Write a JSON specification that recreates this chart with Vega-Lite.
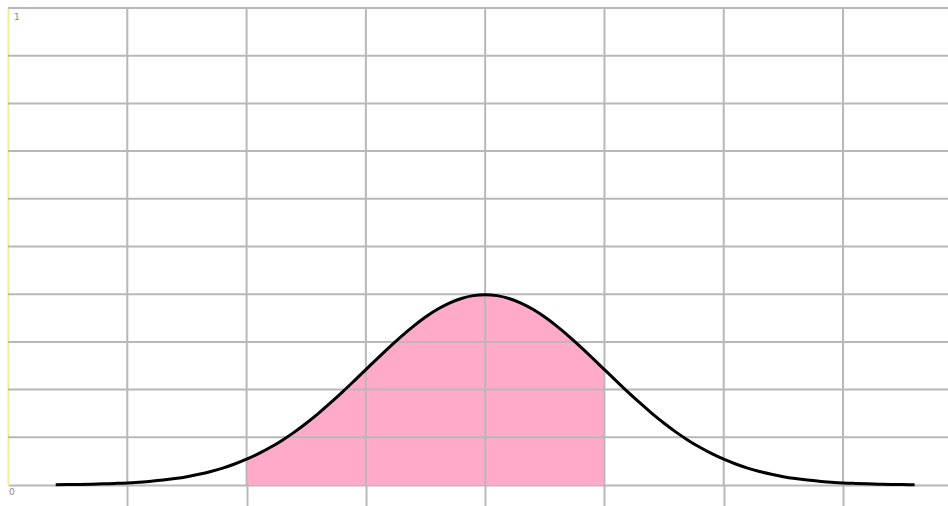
{
  "$schema": "https://vega.github.io/schema/vega-lite/v6.json",
  "width": 940,
  "height": 477,
  "autosize": {"type": "none"},
  "padding": {"left": 8, "top": 8, "right": 0, "bottom": 21},
  "background": "white",
  "config": {"view": {"stroke": null}},
  "datasets": {
    "curve": [
      {"x": -3.6, "y": 0.0006}, {"x": -3.5, "y": 0.0009}, {"x": -3.4, "y": 0.0012}, {"x": -3.3, "y": 0.0017},
      {"x": -3.2, "y": 0.0024}, {"x": -3.1, "y": 0.0033}, {"x": -3.0, "y": 0.0044}, {"x": -2.9, "y": 0.0060},
      {"x": -2.8, "y": 0.0079}, {"x": -2.7, "y": 0.0104}, {"x": -2.6, "y": 0.0136}, {"x": -2.5, "y": 0.0175},
      {"x": -2.4, "y": 0.0224}, {"x": -2.3, "y": 0.0283}, {"x": -2.2, "y": 0.0355}, {"x": -2.1, "y": 0.0440},
      {"x": -2.0, "y": 0.0540}, {"x": -1.9, "y": 0.0656}, {"x": -1.8, "y": 0.0790}, {"x": -1.7, "y": 0.0940},
      {"x": -1.6, "y": 0.1109}, {"x": -1.5, "y": 0.1295}, {"x": -1.4, "y": 0.1497}, {"x": -1.3, "y": 0.1714},
      {"x": -1.2, "y": 0.1942}, {"x": -1.1, "y": 0.2179}, {"x": -1.0, "y": 0.2420}, {"x": -0.9, "y": 0.2661},
      {"x": -0.8, "y": 0.2897}, {"x": -0.7, "y": 0.3123}, {"x": -0.6, "y": 0.3332}, {"x": -0.5, "y": 0.3521},
      {"x": -0.4, "y": 0.3683}, {"x": -0.3, "y": 0.3814}, {"x": -0.2, "y": 0.3910}, {"x": -0.1, "y": 0.3970},
      {"x": 0.0, "y": 0.3989}, {"x": 0.1, "y": 0.3970}, {"x": 0.2, "y": 0.3910}, {"x": 0.3, "y": 0.3814},
      {"x": 0.4, "y": 0.3683}, {"x": 0.5, "y": 0.3521}, {"x": 0.6, "y": 0.3332}, {"x": 0.7, "y": 0.3123},
      {"x": 0.8, "y": 0.2897}, {"x": 0.9, "y": 0.2661}, {"x": 1.0, "y": 0.2420}, {"x": 1.1, "y": 0.2179},
      {"x": 1.2, "y": 0.1942}, {"x": 1.3, "y": 0.1714}, {"x": 1.4, "y": 0.1497}, {"x": 1.5, "y": 0.1295},
      {"x": 1.6, "y": 0.1109}, {"x": 1.7, "y": 0.0940}, {"x": 1.8, "y": 0.0790}, {"x": 1.9, "y": 0.0656},
      {"x": 2.0, "y": 0.0540}, {"x": 2.1, "y": 0.0440}, {"x": 2.2, "y": 0.0355}, {"x": 2.3, "y": 0.0283},
      {"x": 2.4, "y": 0.0224}, {"x": 2.5, "y": 0.0175}, {"x": 2.6, "y": 0.0136}, {"x": 2.7, "y": 0.0104},
      {"x": 2.8, "y": 0.0079}, {"x": 2.9, "y": 0.0060}, {"x": 3.0, "y": 0.0044}, {"x": 3.1, "y": 0.0033},
      {"x": 3.2, "y": 0.0024}, {"x": 3.3, "y": 0.0017}, {"x": 3.4, "y": 0.0012}, {"x": 3.5, "y": 0.0009},
      {"x": 3.6, "y": 0.0006}
    ],
    "vgrid": [{"x": -3}, {"x": -2}, {"x": -1}, {"x": 0}, {"x": 1}, {"x": 2}, {"x": 3}],
    "hgrid": [{"y": 0.1}, {"y": 0.2}, {"y": 0.3}, {"y": 0.4}, {"y": 0.5}, {"y": 0.6}, {"y": 0.7}, {"y": 0.8}, {"y": 0.9}, {"y": 1.0}],
    "toplabel": [{"x": -4, "y": 1, "t": "1"}],
    "bottomlabel": [{"x": -4, "y": 0, "t": "0"}]
  },
  "layer": [
    {
      "data": {"name": "curve"},
      "transform": [{"filter": "datum.x >= -2 && datum.x <= 1"}],
      "mark": {"type": "area", "color": "#ffaac8", "opacity": 1},
      "encoding": {
        "x": {"field": "x", "type": "quantitative", "scale": {"domain": [-4, 3.88], "nice": false, "zero": false},
          "axis": {"orient": "bottom", "values": [-3, -2, -1, 0, 1, 2, 3], "labels": false, "title": null, "grid": false,
            "domainColor": "#b8b8b8", "domainWidth": 2, "tickColor": "#b8b8b8", "tickWidth": 2, "tickSize": 21}},
        "y": {"field": "y", "type": "quantitative", "scale": {"domain": [0, 1], "nice": false},
          "axis": {"orient": "left", "labels": false, "ticks": false, "title": null, "grid": false,
            "domainColor": "#eeeea0", "domainWidth": 2}}
      }
    },
    {
      "data": {"name": "vgrid"},
      "mark": {"type": "rule", "color": "#b8b8b8", "strokeWidth": 2},
      "encoding": {
        "x": {"field": "x", "type": "quantitative"},
        "y": {"datum": 0, "type": "quantitative"},
        "y2": {"datum": 1}
      }
    },
    {
      "data": {"name": "hgrid"},
      "mark": {"type": "rule", "color": "#b8b8b8", "strokeWidth": 2},
      "encoding": {
        "y": {"field": "y", "type": "quantitative"},
        "x": {"datum": -4, "type": "quantitative"},
        "x2": {"datum": 3.88}
      }
    },
    {
      "data": {"name": "curve"},
      "mark": {"type": "line", "color": "black", "strokeWidth": 3, "interpolate": "monotone"},
      "encoding": {
        "x": {"field": "x", "type": "quantitative"},
        "y": {"field": "y", "type": "quantitative"}
      }
    },
    {
      "data": {"name": "toplabel"},
      "mark": {"type": "text", "align": "left", "baseline": "middle", "fontSize": 9, "font": "DejaVu Sans", "color": "#888888", "dx": 6, "dy": 9},
      "encoding": {
        "x": {"field": "x", "type": "quantitative"},
        "y": {"field": "y", "type": "quantitative"},
        "text": {"field": "t"}
      }
    },
    {
      "data": {"name": "bottomlabel"},
      "mark": {"type": "text", "align": "left", "baseline": "middle", "fontSize": 9, "font": "DejaVu Sans", "color": "#888888", "dx": 1, "dy": 7},
      "encoding": {
        "x": {"field": "x", "type": "quantitative"},
        "y": {"field": "y", "type": "quantitative"},
        "text": {"field": "t"}
      }
    }
  ]
}
